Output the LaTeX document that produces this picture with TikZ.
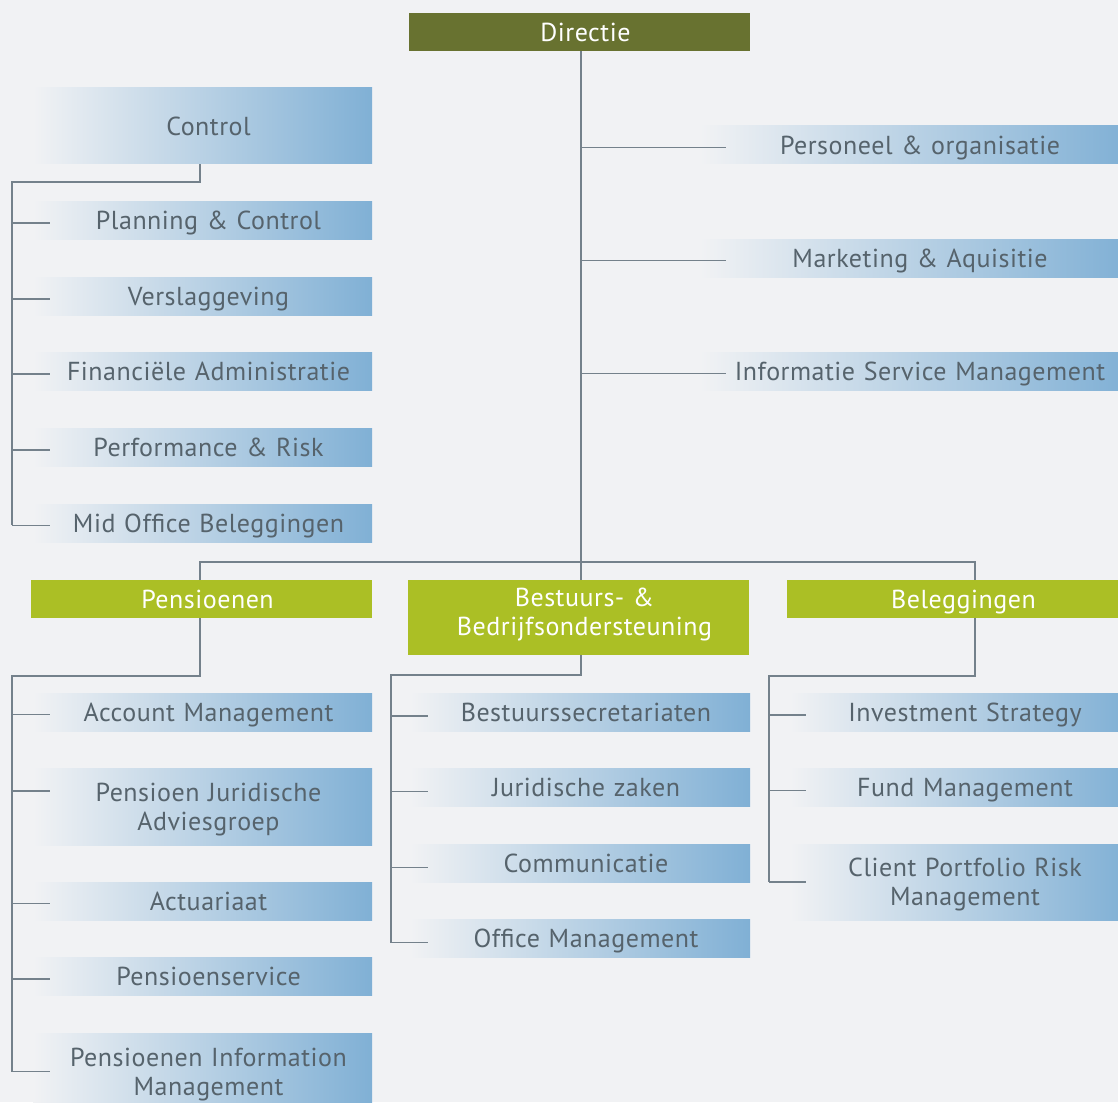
\documentclass[tikz,border=0pt]{standalone}
\usepackage{fontspec}
\setmainfont{PT Sans}[LetterSpace=2]
\usetikzlibrary{backgrounds}
\definecolor{bgc}{HTML}{F1F2F4}
\definecolor{boxblue}{HTML}{80B0D5}
\definecolor{olive}{HTML}{687230}
\definecolor{lime}{HTML}{ABBF25}
\definecolor{txtgrey}{HTML}{56636C}
\definecolor{linegrey}{HTML}{74818B}

\begin{document}
\begin{tikzpicture}[x=1pt,y=-1pt,
	conn/.style={draw=linegrey,line width=1.9pt},
	base/.style={inner sep=0pt,text width=#1,align=center,minimum height=38pt,
		text height=18.5pt,text depth=0pt,font=\fontsize{26}{29}\selectfont,
		execute at begin node={\advance\leftskip by 12pt}},
	unit/.style={base=#1,left color=bgc,middle color=boxblue!68!bgc,right color=boxblue,text=txtgrey},
	head/.style={base=#1,fill=lime,text=white},
	twoline/.style={text depth=29pt,minimum height=77pt}]
		\path[use as bounding box] (0,0) rectangle (1118,1102);
		\clip (0,0) rectangle (1118,1102);
		% top
		\node[head=341,fill=olive] (dir) at (579.5,32) {Directie};
		\node[unit=428] (po) at (914,145) {Personeel \& organisatie};
		\node[unit=428] (ma) at (914,258) {Marketing \& Aquisitie};
		\node[unit=428] (is) at (914,371) {Informatie Service Management};
		% control
		\node[unit=339,minimum height=76pt] (ctrl) at (202.5,126) {Control};
		\node[unit=339] (pc) at (202.5,220.5) {Planning \& Control};
		\node[unit=339] (vs) at (202.5,296.5) {Verslaggeving};
		\node[unit=339] (fa) at (202.5,371.5) {Financiële Administratie};
		\node[unit=339] (pr) at (202.5,447.5) {Performance \& Risk};
		\node[unit=339] (mo) at (202.5,523) {Mid Office Beleggingen};
		% divisions
		\node[head=341] (pen) at (201.5,599) {Pensioenen};
		\node[head=341,twoline,text depth=40pt,minimum height=75pt] (bb) at (578.5,617.5) {Bestuurs- \&\\Bedrijfsondersteuning};
		\node[head=341] (bel) at (957.5,599) {Beleggingen};
		% pensioenen
		\node[unit=339] (ac) at (202.5,712) {Account Management};
		\node[unit=339,twoline] (pja) at (202.5,806.5) {Pensioen Juridische\\Adviesgroep};
		\node[unit=339] (act) at (202.5,901) {Actuariaat};
		\node[unit=339] (ps) at (202.5,976.5) {Pensioenservice};
		\node[unit=339,twoline] (pim) at (202.5,1071.5) {Pensioenen Information\\Management};
		% bestuurs- & bedrijfsondersteuning
		\node[unit=340] (bs) at (580,712) {Bestuurssecretariaten};
		\node[unit=340] (jz) at (580,787.5) {Juridische zaken};
		\node[unit=340] (co) at (580,863.5) {Communicatie};
		\node[unit=340] (om) at (580,938.5) {Office Management};
		% beleggingen
		\node[unit=338] (ist) at (959,712) {Investment Strategy};
		\node[unit=338] (fm) at (959,787.5) {Fund Management};
		\node[unit=338,twoline,minimum height=76pt] (cprm) at (959,882) {Client Portfolio Risk\\Management};

		\begin{scope}[on background layer]
		\fill[bgc] (0,0) rectangle (1118,1102);
		\end{scope}
		\draw[conn] ([xshift=1.5pt]dir.south) -- ([xshift=2.5pt]bb.north);
		\draw[conn] ([xshift=-1.5pt]pen.north) -- ++(0,-18) -| ([xshift=17.5pt]bel.north);
		\foreach \n in {po,ma,is}
			\draw[conn] ([shift={(26pt,-2.5pt)}]\n.west) -- ++(-145pt,0);
		% control
		\draw[conn] ([xshift=-2.5pt]ctrl.south) -- ++(0,18) -| ([shift={(-21pt,-2pt)}]mo.west);
		\foreach \n in {pc,vs,fa,pr,mo,ac,act,ps}
			\draw[conn] ([shift={(17pt,-2.5pt)}]\n.west) -- ++(-38pt,0);
		% pensioenen
		\draw[conn] ([xshift=-1.5pt]pen.south) -- ++(0,58) -| ([xshift=-21pt]pim.west);
		\draw[conn] ([shift={(17pt,15.5pt)}]pja.west) -- ++(-38pt,0);
		\draw[conn] ([xshift=17pt]pim.west) -- ++(-38pt,0);
		% bestuurs
		\draw[conn] ([xshift=2.5pt]bb.south) -- ++(0,20) -| ([shift={(-19pt,-4pt)}]om.west);
		\foreach \n in {bs,jz,co,om}
			\draw[conn] ([shift={(18pt,-4pt)}]\n.west) -- ++(-37pt,0);
		% beleggingen
		\draw[conn] ([xshift=17.5pt]bel.south) -- ++(0,58) -| ([xshift=-21pt]cprm.west);
		\foreach \n in {ist,fm}
			\draw[conn] ([shift={(16pt,-3pt)}]\n.west) -- ++(-37pt,0);
		\draw[conn] ([xshift=16pt]cprm.west) -- ++(-37pt,0);
	\end{tikzpicture}
\end{document}
